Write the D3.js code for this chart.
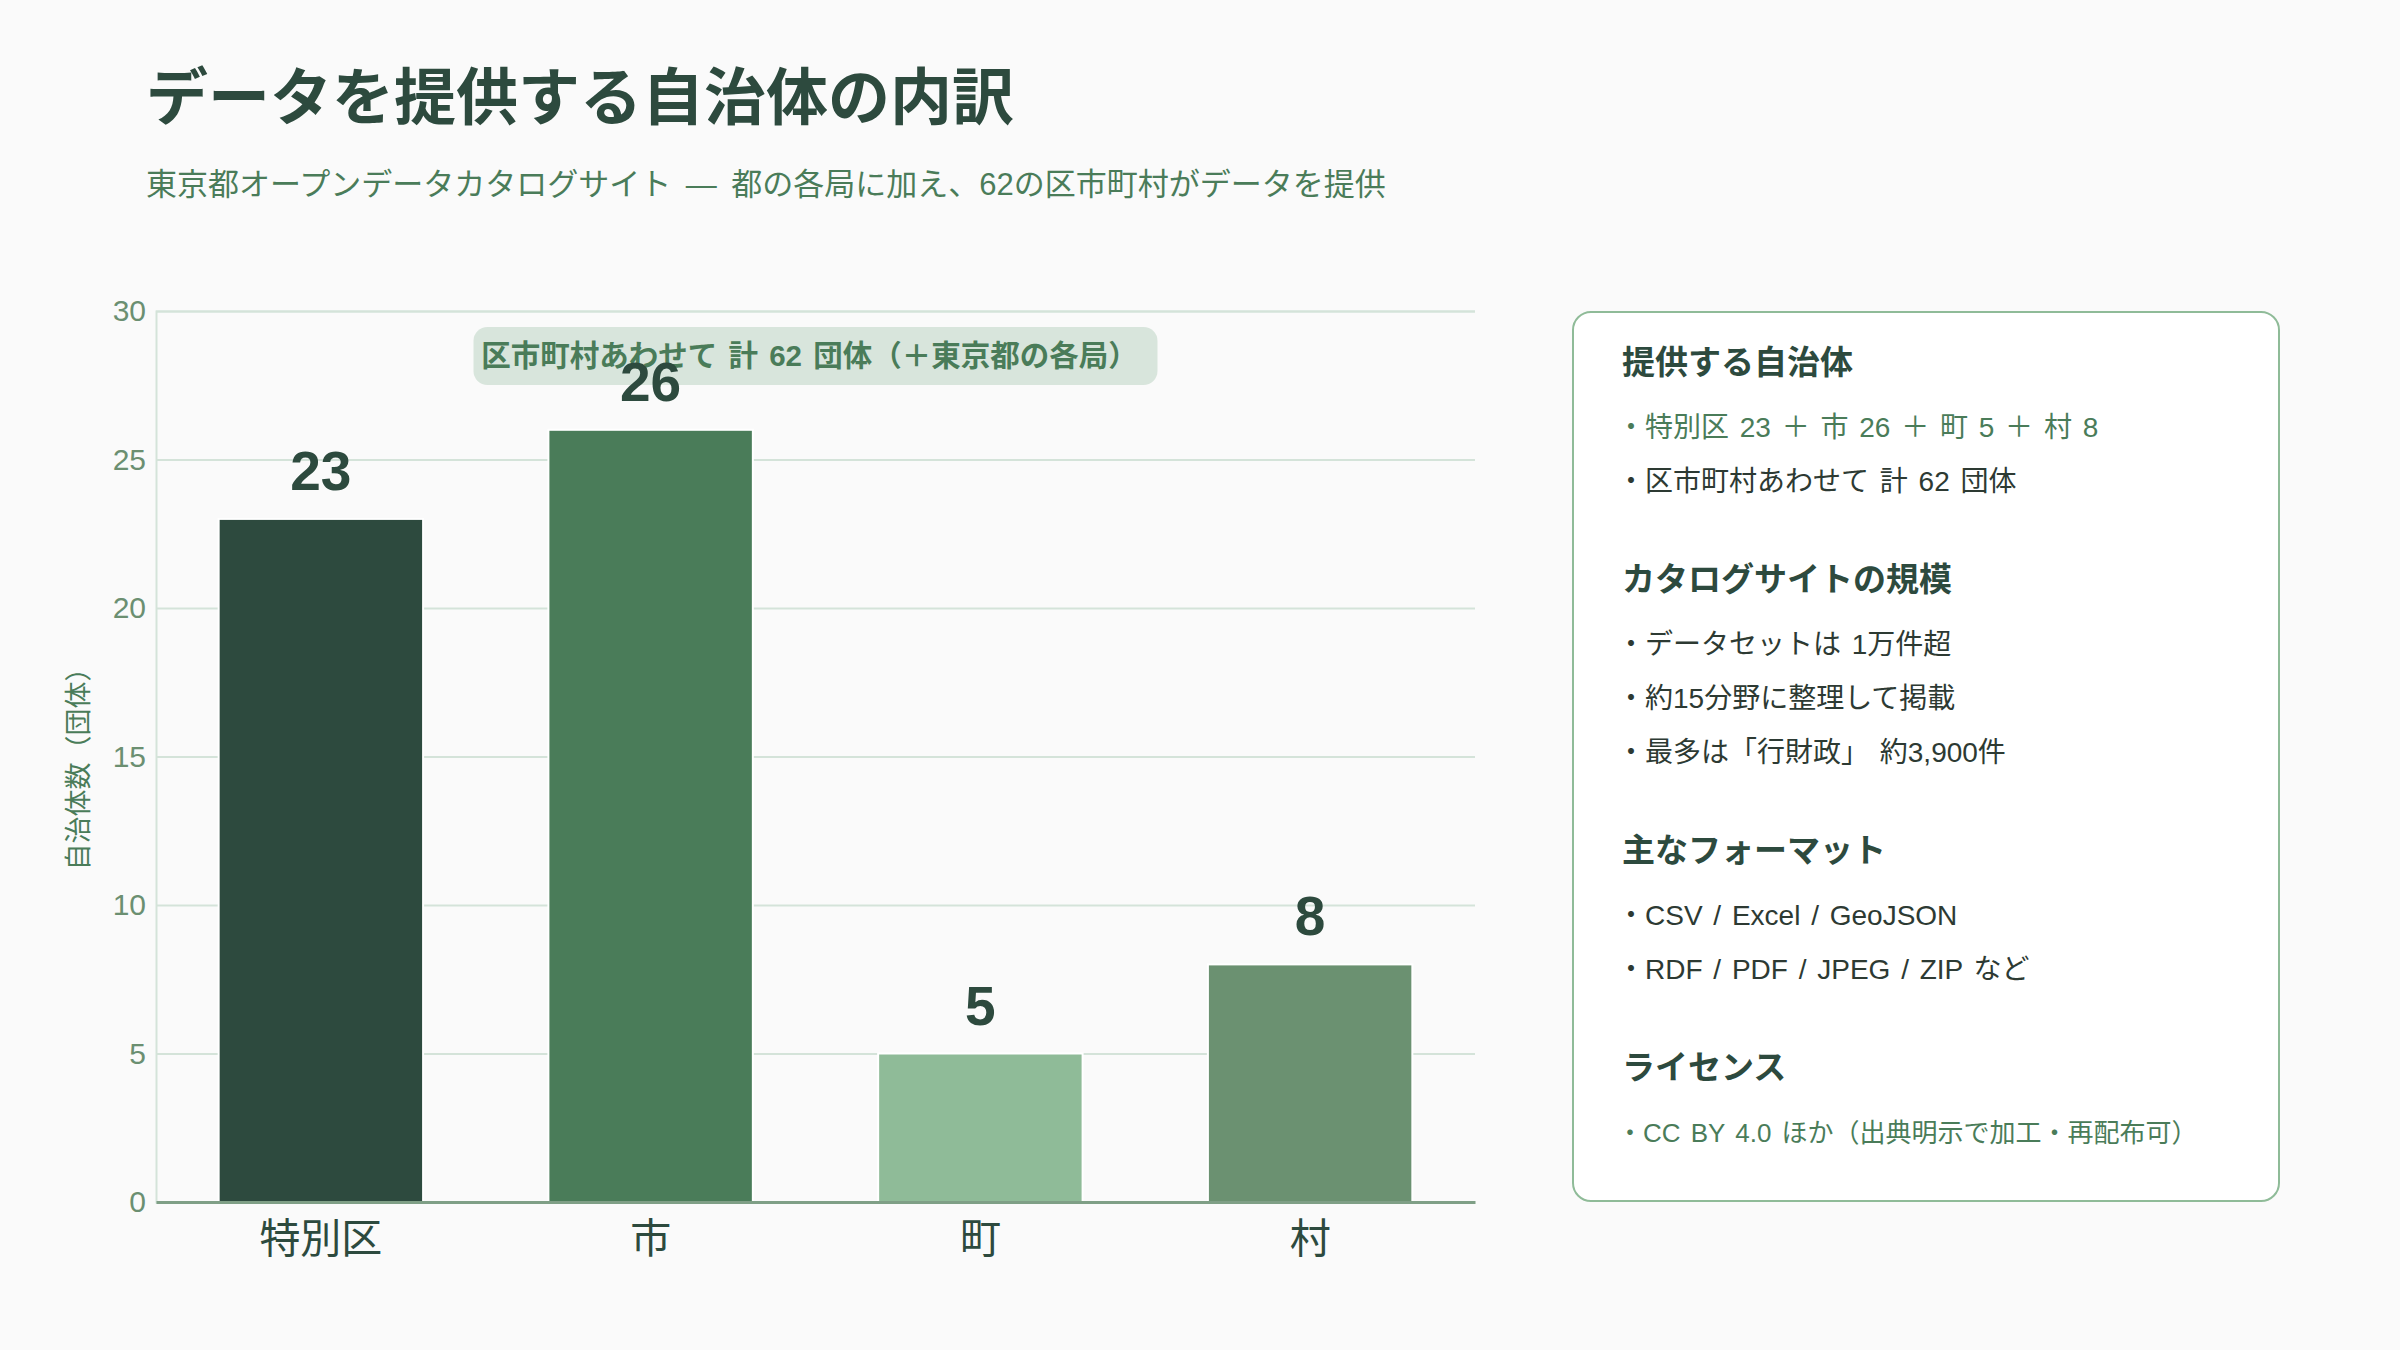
<!DOCTYPE html>
<html>
<head>
<meta charset="utf-8">
<script src="https://cdn.jsdelivr.net/npm/d3@7"></script>
<style>
  body { margin: 0; background: #fafafa; }
  svg { font-family: "Liberation Sans", "Noto Sans CJK JP", sans-serif; }
</style>
</head>
<body>
<svg id="chart" width="2400" height="1350"></svg>
<script>
// data
var categories = ["特別区", "市", "町", "村"];
var counts = [23, 26, 5, 8];
var yTicks = [0, 5, 10, 15, 20, 25, 30];

var titleText = "データを提供する自治体の内訳";
var subtitleText = "東京都オープンデータカタログサイト — 都の各局に加え、62の区市町村がデータを提供";
var noteText = "区市町村あわせて 計 62 団体（＋東京都の各局）";
var yLabel = "自治体数（団体）";

var panelHeadings = ["提供する自治体", "カタログサイトの規模", "主なフォーマット", "ライセンス"];
var panelItems = [
    ["・特別区 23 ＋ 市 26 ＋ 町 5 ＋ 村 8", "・区市町村あわせて 計 62 団体"],
    ["・データセットは 1万件超", "・約15分野に整理して掲載", "・最多は「行財政」 約3,900件"],
    ["・CSV / Excel / GeoJSON", "・RDF / PDF / JPEG / ZIP など"],
    ["・CC BY 4.0 ほか（出典明示で加工・再配布可）"]
];

var barColors = ["#2d4a3e", "#4a7c59", "#8fbb98", "#6b9171"];

var margin = { top: 311, right: 925, bottom: 148, left: 156 },
    width = 2400 - margin.left - margin.right,
    height = 1350 - margin.top - margin.bottom;

var svg = d3.select("#chart");

svg.append("rect").attr("width", 2400).attr("height", 1350).attr("fill", "#fafafa");

// title
svg.append("text")
    .attr("x", 146).attr("y", 120)
    .attr("font-size", 62).attr("font-weight", 700)
    .attr("fill", "#2d4a3e")
    .text(titleText);

svg.append("text")
    .attr("x", 146).attr("y", 195)
    .attr("font-size", 31)
    .attr("word-spacing", 6)
    .attr("fill", "#4a7c59")
    .text(subtitleText);

var xScale = d3.scaleBand().domain(categories).range([0, width]).paddingInner(0.38).paddingOuter(0.19);
var yScale = d3.scaleLinear().domain([0, 30]).range([height, 0]);

var chart = svg.append("g")
    .attr("transform", "translate(" + margin.left + "," + margin.top + ")");

// grid + y axis
var yAxis = chart.append("g")
    .attr("class", "axis-y")
    .call(d3.axisLeft(yScale).tickValues(yTicks).tickSize(-width).tickPadding(10));

yAxis.select(".domain").attr("stroke", "#d4e3d9").attr("stroke-width", 2);
yAxis.selectAll(".tick line").attr("stroke", "#d4e3d9").attr("stroke-width", 2);
yAxis.selectAll(".tick text")
    .attr("font-size", 30)
    .attr("font-family", "Liberation Sans")
    .attr("fill", "#6b8f71");

// note box
var noteG = chart.append("g");
noteG.append("rect")
    .attr("x", width / 2 - 342).attr("y", 16)
    .attr("width", 684).attr("height", 58)
    .attr("rx", 14)
    .attr("fill", "#d8e5dc");
noteG.append("text")
    .attr("x", width / 2 - 6).attr("y", 55)
    .attr("text-anchor", "middle")
    .attr("font-size", 29.5).attr("font-weight", 700)
    .attr("word-spacing", 3)
    .attr("fill", "#4a7c59")
    .text(noteText);

// bars
var dataSet = categories.map(function (c, i) { return { name: c, value: counts[i], color: barColors[i] }; });

chart.selectAll(".bar")
    .data(dataSet).enter()
    .append("rect")
    .attr("class", "bar")
    .attr("x", function (d) { return xScale(d.name); })
    .attr("y", function (d) { return yScale(d.value); })
    .attr("width", xScale.bandwidth())
    .attr("height", function (d) { return height - yScale(d.value); })
    .attr("fill", function (d) { return d.color; })
    .attr("stroke", "#ffffff")
    .attr("stroke-width", 2);

chart.selectAll(".val")
    .data(dataSet).enter()
    .append("text")
    .attr("class", "val")
    .attr("x", function (d) { return xScale(d.name) + xScale.bandwidth() / 2; })
    .attr("y", function (d) { return yScale(d.value) - 29; })
    .attr("text-anchor", "middle")
    .attr("font-size", 55).attr("font-weight", 700)
    .attr("fill", "#2d4a3e")
    .text(function (d) { return d.value; });

// x axis
var xAxis = chart.append("g")
    .attr("class", "axis-x")
    .attr("transform", "translate(0," + height + ")")
    .call(d3.axisBottom(xScale).tickSize(0).tickPadding(22));

xAxis.select(".domain").attr("stroke", "#7f9f86").attr("stroke-width", 3);
xAxis.selectAll(".tick text")
    .attr("font-size", 41)
    .attr("font-family", "Noto Sans CJK JP")
    .attr("fill", "#2d4a3e");

// y label
svg.append("text")
    .attr("transform", "translate(88," + (margin.top + height / 2 + 6) + ") rotate(-90)")
    .attr("text-anchor", "middle")
    .attr("font-size", 27)
    .attr("fill", "#4a7c59")
    .text(yLabel);

// side panel
var panel = svg.append("g").attr("transform", "translate(1573,312)");
panel.append("rect")
    .attr("width", 706).attr("height", 889)
    .attr("rx", 18)
    .attr("fill", "#ffffff")
    .attr("stroke", "#8fbb98")
    .attr("stroke-width", 2);

var accent = { "0-0": true, "3-0": true };
var yPos = 62;
panelHeadings.forEach(function (h, s) {
    panel.append("text")
        .attr("x", 49).attr("y", yPos)
        .attr("font-size", 33).attr("font-weight", 700)
        .attr("fill", "#2d4a3e")
        .text(h);
    yPos += 63;
    panelItems[s].forEach(function (t, j) {
        var isAccent = accent[s + "-" + j];
        panel.append("text")
            .attr("x", 44).attr("y", yPos)
            .attr("font-size", s === 3 ? 26 : 28)
            .attr("word-spacing", 3)
            .attr("fill", isAccent ? "#4a7c59" : "#2d3a33")
            .text(t);
        if (j < panelItems[s].length - 1) yPos += 54;
    });
    yPos += 100;
});
</script>
</body>
</html>
